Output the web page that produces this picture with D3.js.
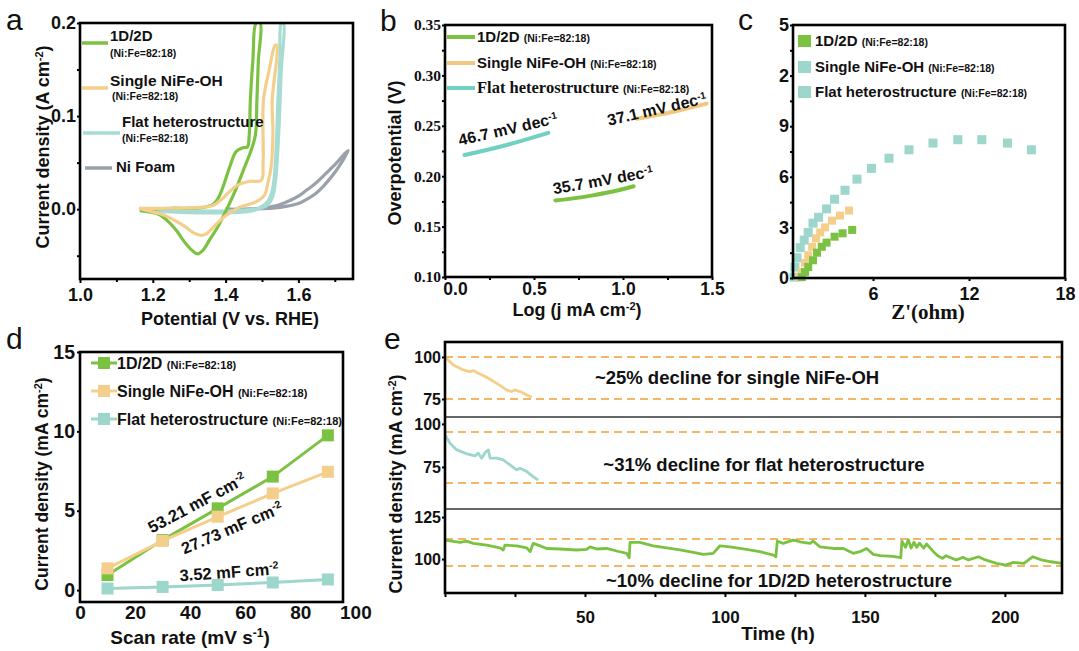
<!DOCTYPE html>
<html>
<head>
<meta charset="utf-8">
<script src="https://cdn.jsdelivr.net/npm/d3@7"></script>
<style>
  body { margin: 0; background: #fff; }
</style>
</head>
<body>
<svg id="fig" width="1079" height="651"></svg>
<script>
// ---------- data ----------
// a: LSV / CV loops, [potential V, current A cm-2]
var cvGreen = [[1.164,-0.001],[1.20,0.000],[1.25,0.001],[1.30,0.001],[1.34,0.002],[1.365,0.005],[1.38,0.012],[1.393,0.024],[1.411,0.045],[1.429,0.062],[1.447,0.066],[1.460,0.067],[1.465,0.08],[1.468,0.117],[1.475,0.16],[1.484,0.2],
  [1.495,0.2],[1.490,0.16],[1.486,0.117],[1.482,0.08],[1.470,0.063],[1.455,0.048],[1.438,0.031],[1.42,0.014],[1.402,-0.001],[1.38,-0.018],[1.356,-0.033],[1.338,-0.044],[1.324,-0.048],[1.31,-0.045],[1.295,-0.039],[1.283,-0.033],[1.265,-0.023],[1.247,-0.015],[1.219,-0.006],[1.19,-0.003],[1.164,-0.001]];
var cvSingle = [[1.162,0.001],[1.25,0.001],[1.33,0.002],[1.365,0.004],[1.39,0.011],[1.411,0.019],[1.43,0.025],[1.447,0.028],[1.466,0.030],[1.498,0.031],[1.503,0.05],[1.504,0.117],[1.52,0.15],[1.536,0.176],
  [1.541,0.176],[1.528,0.117],[1.53,0.081],[1.525,0.045],[1.516,0.028],[1.507,0.015],[1.484,0.008],[1.438,0.002],[1.42,-0.002],[1.40,-0.007],[1.38,-0.014],[1.36,-0.022],[1.345,-0.027],[1.33,-0.028],[1.31,-0.025],[1.29,-0.019],[1.265,-0.013],[1.24,-0.008],[1.22,-0.005],[1.19,-0.002],[1.162,0.001]];
var cvFlat = [[1.165,-0.002],[1.25,-0.003],[1.35,-0.004],[1.45,-0.003],[1.48,-0.001],[1.50,0.003],[1.515,0.008],[1.528,0.02],[1.535,0.04],[1.540,0.075],[1.544,0.12],[1.549,0.16],[1.553,0.2],
  [1.559,0.2],[1.553,0.15],[1.548,0.1],[1.543,0.06],[1.537,0.03],[1.528,0.012],[1.51,0.003],[1.48,0.0],[1.40,-0.002],[1.30,-0.002],[1.165,-0.002]];
var cvFoam = [[1.40,0.0],[1.46,0.0],[1.55,0.002],[1.60,0.006],[1.62,0.01],[1.645,0.016],[1.667,0.024],[1.685,0.032],[1.703,0.041],[1.72,0.051],[1.737,0.063],
  [1.728,0.060],[1.703,0.049],[1.685,0.042],[1.667,0.035],[1.645,0.027],[1.621,0.02],[1.60,0.014],[1.575,0.009],[1.55,0.005],[1.53,0.003],[1.50,0.001],[1.45,0.0],[1.40,0.0]];

// b: Tafel lines, [log j, overpotential V]
var tafelFlat = [[0.11,0.221],[0.347,0.231],[0.58,0.243]];
var tafelGreen = [[0.62,0.176],[0.72,0.178],[0.83,0.181],[0.95,0.185],[1.06,0.190]];
var tafelSingle = [[1.077,0.257],[1.283,0.264],[1.47,0.272]];

// c: Nyquist points, [Z' ohm, -Z'' ohm]
var eisFlat = [[1.06,0.05],[1.12,0.65],[1.25,1.2],[1.45,1.8],[1.7,2.25],[1.95,2.7],[2.25,3.25],[2.6,3.6],[3.1,4.1],[3.6,4.67],[4.25,5.2],[5.0,5.86],[5.9,6.5],[7.0,7.1],[8.25,7.6],[9.75,8.0],[11.3,8.2],[12.8,8.2],[14.4,8.0],[15.9,7.6]];
var eisSingle = [[1.4,0.05],[1.55,0.37],[1.75,0.9],[1.95,1.35],[2.2,1.85],[2.44,2.35],[2.7,2.7],[3.0,3.0],[3.44,3.4],[3.94,3.7],[4.5,4.0]];
var eisGreen = [[1.55,0.05],[1.75,0.35],[1.95,0.65],[2.25,1.05],[2.5,1.5],[2.8,1.85],[3.1,2.1],[3.6,2.45],[4.1,2.65],[4.7,2.85]];
var cTickLabels = ["0", "3", "6", "9", "2", "5"];

// d: capacitive current vs scan rate
var scanRates = [10, 30, 50, 70, 90];
var cdlGreen = [0.95, 3.15, 5.15, 7.15, 9.75];
var cdlSingle = [1.37, 3.1, 4.62, 6.09, 7.45];
var cdlFlat = [0.1, 0.2, 0.32, 0.48, 0.67];

// e: stability, time h and current mA cm-2
var singleT = [0, 3.0, 6.5, 8.9, 10.1, 11.9, 14.9, 18.5, 22, 23.8, 25, 26.8, 29.2, 31];
var singleV = [100, 95.2, 92.3, 91.3, 91.9, 90.3, 87.9, 84.3, 80.4, 79.4, 80.4, 79.4, 77.4, 76.0];
var flatT = [0, 1.8, 4.2, 7.8, 10.7, 11.9, 13.1, 14.3, 15.5, 16.1, 18.5, 20.8, 23.2, 25.6, 26.8, 29.2, 31.5, 33.3];
var flatV = [93.5, 88.8, 84.9, 82.6, 81.4, 83.0, 80.1, 83.3, 84.9, 80.1, 80.1, 79.1, 76.2, 73.3, 74.3, 72.3, 69.4, 67.4];
var greenT = [0, 5.4, 7.7, 10.1, 14.9, 19.6, 20.8, 21.4, 25.6, 29.2, 30.4, 31.5, 33.3, 36.3, 41.1, 47, 50.6, 51.8, 54.2, 57.7, 61.3, 64.9, 65.8, 66.1, 69.6, 74.4, 79.2, 83.9, 88.7, 92.3, 95.8, 98.2, 101.8, 106.5, 112.5, 117.3, 118.2, 118.7, 120.8, 124.4, 126.8, 130.4, 131.5, 133.9, 138.7, 142.3, 145.8, 148.2, 150.6, 153, 155.4, 160, 162.8, 163.2, 164.5, 165.5, 166.5, 167.5, 168.5, 169.5, 171, 172, 174.5, 176, 177.7, 179, 182.6, 185, 187, 190.6, 193, 197, 200.3, 203, 206.8, 210, 213, 216.5, 220.4];
var greenV = [111.3, 109.9, 110.7, 109.3, 108.3, 106.7, 105.4, 108.3, 107.9, 106.7, 104.4, 109.3, 108.3, 106.3, 106.0, 105.4, 105.8, 107.3, 106, 106.3, 104.8, 103.4, 100.8, 109.9, 109.9, 107.9, 106.7, 105.4, 104.0, 102.8, 103.4, 107.9, 107.3, 106, 104.4, 102.4, 101.4, 110.7, 109.3, 111.3, 110.3, 109.3, 110.7, 107.3, 106.3, 106.3, 103.4, 104.4, 106.3, 102.8, 102, 101.6, 100.8, 110.7, 107, 111.5, 106.5, 110, 107, 109.5, 106.5, 109, 104.4, 102, 100.4, 102, 99.4, 101, 99.5, 101.4, 99.5, 97.4, 96.4, 98, 97.4, 101.4, 99.5, 98.4, 97.4];
var eRefTop = [100, 75], eRefMid = [95.3, 65.7], eRefBot = [112, 95.8];

// ---------- styling ----------
var SANS = '"Liberation Sans", Arial, sans-serif';
var SERIF = '"Liberation Serif", "Times New Roman", serif';
var GREEN = "#7cc242", YELLOW = "#f4cf8c", TEAL = "#a6dcd4", GRAY = "#9aa1aa";
var TEAL_B = "#70d0c2", YELLOW_B = "#f2c880", TEAL_C = "#9dd6cb", ORANGE = "#f6b665";

var svg = d3.select("#fig");

function addText(g, x, y, parts, o) {
  o = o || {};
  var t = g.append("text")
    .attr("transform", "translate(" + x + "," + y + ")" + (o.rot ? " rotate(" + o.rot + ")" : ""))
    .attr("text-anchor", o.anchor || "start")
    .attr("dy", "0.35em")
    .attr("font-family", o.family || SANS)
    .attr("font-weight", o.weight || "bold")
    .attr("font-size", o.size || 16)
    .attr("fill", "#111");
  parts.forEach(function (p) {
    if (typeof p === "string") p = { t: p };
    var s = t.append("tspan").text(p.t);
    if (p.size) s.attr("font-size", p.size);
    if (p.family) s.attr("font-family", p.family);
    if (p.sup) s.attr("baseline-shift", "super");
  });
  return t;
}

function frame(g, x0, y0, x1, y1) {
  g.append("rect").attr("x", x0).attr("y", y0).attr("width", x1 - x0).attr("height", y1 - y0)
    .attr("fill", "none").attr("stroke", "#000").attr("stroke-width", 2.6);
}

function drawAxis(g, axis, tx, ty, o) {
  o = o || {};
  var a = g.append("g").attr("transform", "translate(" + tx + "," + ty + ")").call(axis);
  a.select(".domain").remove();
  a.selectAll("line").attr("stroke", "#000").attr("stroke-width", 2);
  a.selectAll("text").attr("fill", "#111")
    .attr("font-family", o.family || SANS).attr("font-weight", "bold")
    .attr("font-size", o.size || 18);
  return a;
}

function letter(ch, x, y) {
  svg.append("text").attr("x", x).attr("y", y).text(ch)
    .attr("font-family", SANS).attr("font-size", 30).attr("fill", "#111");
}

// ---------- panel a ----------
(function () {
  var g = svg.append("g");
  var x = d3.scaleLinear().domain([1.0, 1.75]).range([80, 353]);
  var y = d3.scaleLinear().domain([-0.075, 0.2]).range([279, 23]);
  var line = d3.line().x(function (d) { return x(d[0]); }).y(function (d) { return y(d[1]); }).curve(d3.curveCatmullRom);
  g.append("clipPath").attr("id", "clipA").append("rect").attr("x", 80).attr("y", 23).attr("width", 273).attr("height", 256);
  var p = g.append("g").attr("clip-path", "url(#clipA)");
  [[cvFoam, GRAY], [cvFlat, TEAL], [cvGreen, GREEN], [cvSingle, YELLOW]].forEach(function (s) {
    p.append("path").attr("d", line(s[0])).attr("fill", "none").attr("stroke", s[1]).attr("stroke-width", 3.2).attr("stroke-linejoin", "round");
  });
  // legend
  var leg = [[43, GREEN, 82, 108], [88, YELLOW, 82, 108], [133, TEAL, 83, 120], [168, GRAY, 85, 112]];
  leg.forEach(function (l) {
    g.append("line").attr("x1", l[2]).attr("x2", l[3]).attr("y1", l[0]).attr("y2", l[0]).attr("stroke", l[1]).attr("stroke-width", 3.5);
  });
  addText(g, 110, 36, ["1D/2D"], { size: 15 });
  addText(g, 110, 53, ["(Ni:Fe=82:18)"], { size: 10.5 });
  addText(g, 110, 81, ["Single NiFe-OH"], { size: 15.5 });
  addText(g, 112, 96, ["(Ni:Fe=82:18)"], { size: 10.5 });
  addText(g, 122, 122, ["Flat heterostructure"], { size: 15 });
  addText(g, 122, 138, ["(Ni:Fe=82:18)"], { size: 10.5 });
  addText(g, 116, 167, ["Ni Foam"], { size: 15 });
  frame(g, 80, 23, 353, 279);
  drawAxis(g, d3.axisBottom(x).tickValues([1.0, 1.2, 1.4, 1.6]).tickFormat(d3.format(".1f")).tickSize(4).tickPadding(5), 0, 279);
  drawAxis(g, d3.axisBottom(x).tickValues([1.1, 1.3, 1.5, 1.7]).tickFormat("").tickSize(3), 0, 279);
  drawAxis(g, d3.axisLeft(y).tickValues([0, 0.1, 0.2]).tickFormat(d3.format(".1f")).tickSize(3).tickPadding(1), 80, 0);
  drawAxis(g, d3.axisLeft(y).tickValues([-0.05, 0.05, 0.15]).tickFormat("").tickSize(3), 80, 0);
  addText(g, 230, 319, ["Potential (V vs. RHE)"], { size: 18, anchor: "middle" });
  addText(g, 43, 147, ["Current density (A cm", { t: "-2", sup: true, size: 11 }, ")"], { size: 18, anchor: "middle", rot: -90 });
  letter("a", 6, 30);
})();

// ---------- panel b ----------
(function () {
  var g = svg.append("g");
  var x = d3.scaleLinear().domain([0, 1.5]).range([445, 712]);
  var y = d3.scaleLinear().domain([0.10, 0.35]).range([277, 25]);
  var line = d3.line().x(function (d) { return x(d[0]); }).y(function (d) { return y(d[1]); }).curve(d3.curveCatmullRom);
  [[tafelFlat, TEAL_B], [tafelGreen, GREEN], [tafelSingle, YELLOW_B]].forEach(function (s) {
    g.append("path").attr("d", line(s[0])).attr("fill", "none").attr("stroke", s[1]).attr("stroke-width", 4).attr("stroke-linecap", "round");
  });
  [[37, GREEN], [63, YELLOW_B], [88, TEAL_B]].forEach(function (l) {
    g.append("line").attr("x1", 447).attr("x2", 475).attr("y1", l[0]).attr("y2", l[0]).attr("stroke", l[1]).attr("stroke-width", 4);
  });
  addText(g, 477, 37, ["1D/2D ", { t: "(Ni:Fe=82:18)", size: 10.5 }], { size: 15 });
  addText(g, 477, 63, ["Single NiFe-OH ", { t: "(Ni:Fe=82:18)", size: 10.5 }], { size: 15 });
  addText(g, 477, 88, [{ t: "Flat heterostructure ", family: SERIF, size: 16.5 }, { t: "(Ni:Fe=82:18)", size: 10.5 }], { size: 15 });
  addText(g, 508, 129, ["46.7 mV dec", { t: "-1", sup: true, size: 10 }], { size: 16, anchor: "middle", rot: -13 });
  addText(g, 657, 109, ["37.1 mV dec", { t: "-1", sup: true, size: 10 }], { size: 16, anchor: "middle", rot: -13 });
  addText(g, 603, 180, ["35.7 mV dec", { t: "-1", sup: true, size: 10 }], { size: 16, anchor: "middle", rot: -10 });
  frame(g, 445, 25, 712, 277);
  var bx = drawAxis(g, d3.axisBottom(x).tickValues([0, 0.5, 1.0, 1.5]).tickFormat(d3.format(".1f")).tickSize(3).tickPadding(3), 0, 277, { size: 17.5 });
  // the reference sets its first x label a little right of the corner
  bx.selectAll("text").filter(function (d) { return d === 0; }).attr("dx", 10);
  drawAxis(g, d3.axisBottom(x).tickValues([0.25, 0.75, 1.25]).tickFormat("").tickSize(3), 0, 277);
  drawAxis(g, d3.axisLeft(y).tickValues([0.10, 0.15, 0.20, 0.25, 0.30, 0.35]).tickFormat(d3.format(".2f")).tickSize(3).tickPadding(1), 445, 0, { family: SERIF, size: 15.5 });
  drawAxis(g, d3.axisLeft(y).tickValues([0.125, 0.175, 0.225, 0.275, 0.325]).tickFormat("").tickSize(3), 445, 0);
  addText(g, 577, 310, ["Log (j mA cm", { t: "-2", sup: true, size: 11 }, ")"], { size: 18, anchor: "middle" });
  addText(g, 395, 153, ["Overpotential (V)"], { size: 18, anchor: "middle", rot: -90 });
  letter("b", 380, 31);
})();

// ---------- panel c ----------
(function () {
  var g = svg.append("g");
  var x = d3.scaleLinear().domain([1, 18]).range([793, 1065]);
  var y = d3.scaleLinear().domain([0, 15]).range([278, 25]);
  function squares(data, color, s) {
    g.selectAll(null).data(data).enter().append("rect")
      .attr("x", function (d) { return x(d[0]) - s / 2; })
      .attr("y", function (d) { return y(d[1]) - s / 2; })
      .attr("width", s).attr("height", s).attr("fill", color);
  }
  squares(eisFlat, TEAL_C, 9);
  squares(eisSingle, YELLOW, 8);
  squares(eisGreen, GREEN, 8);
  [[41, GREEN], [67, TEAL_C], [92, TEAL_C]].forEach(function (l) {
    g.append("rect").attr("x", 798).attr("y", l[0] - 6).attr("width", 13).attr("height", 12).attr("fill", l[1]);
  });
  addText(g, 815, 41, ["1D/2D ", { t: "(Ni:Fe=82:18)", size: 10.5 }], { size: 15 });
  addText(g, 815, 67, ["Single NiFe-OH ", { t: "(Ni:Fe=82:18)", size: 10.5 }], { size: 15 });
  addText(g, 815, 92, ["Flat heterostructure ", { t: "(Ni:Fe=82:18)", size: 10.5 }], { size: 15 });
  frame(g, 793, 25, 1065, 278);
  drawAxis(g, d3.axisBottom(x).tickValues([6, 12, 18]).tickFormat(d3.format("d")).tickSize(3).tickPadding(6), 0, 278);
  drawAxis(g, d3.axisLeft(y).tickValues([0, 3, 6, 9, 12, 15]).tickFormat(function (d, i) { return cTickLabels[i]; }).tickSize(3).tickPadding(1), 793, 0);
  drawAxis(g, d3.axisLeft(y).tickValues([1.5, 4.5, 7.5, 10.5, 13.5]).tickFormat("").tickSize(3), 793, 0);
  addText(g, 928, 312, ["Z'(ohm)"], { size: 21, anchor: "middle", family: SERIF });
  letter("c", 738, 30);
})();

// ---------- panel d ----------
(function () {
  var g = svg.append("g");
  var x = d3.scaleLinear().domain([0, 95.5]).range([80, 343]);
  var y = d3.scaleLinear().domain([-0.75, 15]).range([602, 352]);
  var line = d3.line().x(function (d, i) { return x(scanRates[i]); }).y(function (d) { return y(d); });
  [[cdlFlat, TEAL_C], [cdlGreen, GREEN], [cdlSingle, YELLOW]].forEach(function (s) {
    g.append("path").attr("d", line(s[0])).attr("fill", "none").attr("stroke", s[1]).attr("stroke-width", 3);
    g.selectAll(null).data(s[0]).enter().append("rect")
      .attr("x", function (d, i) { return x(scanRates[i]) - 6; })
      .attr("y", function (d) { return y(d) - 6; })
      .attr("width", 12).attr("height", 12).attr("fill", s[1]);
  });
  [[363, GREEN], [391, YELLOW], [419, TEAL_C]].forEach(function (l) {
    g.append("line").attr("x1", 91).attr("x2", 117).attr("y1", l[0]).attr("y2", l[0]).attr("stroke", l[1]).attr("stroke-width", 3);
    g.append("rect").attr("x", 98).attr("y", l[0] - 6).attr("width", 12).attr("height", 12).attr("fill", l[1]);
  });
  addText(g, 117, 363, ["1D/2D ", { t: "(Ni:Fe=82:18)", size: 11 }], { size: 16 });
  addText(g, 117, 391, ["Single NiFe-OH ", { t: "(Ni:Fe=82:18)", size: 11 }], { size: 16 });
  addText(g, 117, 419, ["Flat heterostructure ", { t: "(Ni:Fe=82:18)", size: 11 }], { size: 16 });
  addText(g, 197, 503, ["53.21 mF cm", { t: "-2", sup: true, size: 10.5 }], { size: 16.5, anchor: "middle", rot: -28 });
  addText(g, 232, 528, ["27.73 mF cm", { t: "-2", sup: true, size: 10.5 }], { size: 16.5, anchor: "middle", rot: -23 });
  addText(g, 229, 572, ["3.52 mF cm", { t: "-2", sup: true, size: 10.5 }], { size: 16.5, anchor: "middle", rot: -4 });
  frame(g, 80, 352, 343, 602);
  drawAxis(g, d3.axisBottom(x).tickValues([0, 20, 40, 60, 80, 100]).tickFormat(d3.format("d")).tickSize(0).tickPadding(4), 0, 602, { size: 19 });
  drawAxis(g, d3.axisLeft(y).tickValues([0, 5, 10, 15]).tickFormat(d3.format("d")).tickSize(3).tickPadding(2), 80, 0, { size: 19.5 });
  addText(g, 190, 637, ["Scan rate (mV s", { t: "-1", sup: true, size: 12 }, ")"], { size: 19, anchor: "middle" });
  addText(g, 42, 484, ["Current density (mA cm", { t: "-2", sup: true, size: 11 }, ")"], { size: 17.5, anchor: "middle", rot: -90 });
  letter("d", 6, 349);
})();

// ---------- panel e ----------
(function () {
  var g = svg.append("g");
  var x = d3.scaleLinear().domain([0, 220.4]).range([445, 1062]);
  var yTop = d3.scaleLinear().domain([64.3, 108.9]).range([417, 342]);
  var yMid = d3.scaleLinear().domain([50.6, 104]).range([509, 417]);
  var yBot = d3.scaleLinear().domain([79.8, 129.8]).range([593, 509]);
  function trace(ts, vs, ys, color) {
    var line = d3.line().x(function (d) { return x(d); }).y(function (d, i) { return ys(vs[i]); });
    g.append("path").attr("d", line(ts)).attr("fill", "none").attr("stroke", color).attr("stroke-width", 2.8).attr("stroke-linejoin", "round");
  }
  function refs(vals, ys) {
    vals.forEach(function (v) {
      g.append("line").attr("x1", x(0)).attr("x2", x(220.4)).attr("y1", ys(v)).attr("y2", ys(v))
        .attr("stroke", ORANGE).attr("stroke-width", 2).attr("stroke-dasharray", "8,5");
    });
  }
  refs(eRefTop, yTop); refs(eRefMid, yMid); refs(eRefBot, yBot);
  trace(singleT, singleV, yTop, YELLOW);
  trace(flatT, flatV, yMid, TEAL_C);
  trace(greenT, greenV, yBot, GREEN);
  [417, 509].forEach(function (yy) {
    g.append("line").attr("x1", 445).attr("x2", 1062).attr("y1", yy).attr("y2", yy).attr("stroke", "#333").attr("stroke-width", 1.6);
  });
  addText(g, 737, 378, ["~25% decline for single NiFe-OH"], { size: 18.5, anchor: "middle" });
  addText(g, 764, 465, ["~31% decline for flat heterostructure"], { size: 18.5, anchor: "middle" });
  addText(g, 779, 581, ["~10% decline for 1D/2D heterostructure"], { size: 18.5, anchor: "middle" });
  frame(g, 445, 342, 1062, 593);
  drawAxis(g, d3.axisBottom(x).tickValues([50, 100, 150, 200]).tickFormat(d3.format("d")).tickSize(4).tickPadding(14), 0, 593, { size: 17 });
  drawAxis(g, d3.axisBottom(x).tickValues([0, 25, 75, 125, 175]).tickFormat("").tickSize(4), 0, 593);
  drawAxis(g, d3.axisLeft(yTop).tickValues([75, 100]).tickFormat(d3.format("d")).tickSize(3).tickPadding(1), 445, 0, { size: 16 });
  drawAxis(g, d3.axisLeft(yMid).tickValues([75, 100]).tickFormat(d3.format("d")).tickSize(3).tickPadding(1), 445, 0, { size: 16 });
  drawAxis(g, d3.axisLeft(yBot).tickValues([100, 125]).tickFormat(d3.format("d")).tickSize(3).tickPadding(1), 445, 0, { size: 16 });
  addText(g, 778, 633, ["Time (h)"], { size: 19, anchor: "middle" });
  addText(g, 396, 484, ["Current density (mA cm", { t: "-2", sup: true, size: 11 }, ")"], { size: 18, anchor: "middle", rot: -90 });
  letter("e", 384, 349);
})();
</script>
</body>
</html>
